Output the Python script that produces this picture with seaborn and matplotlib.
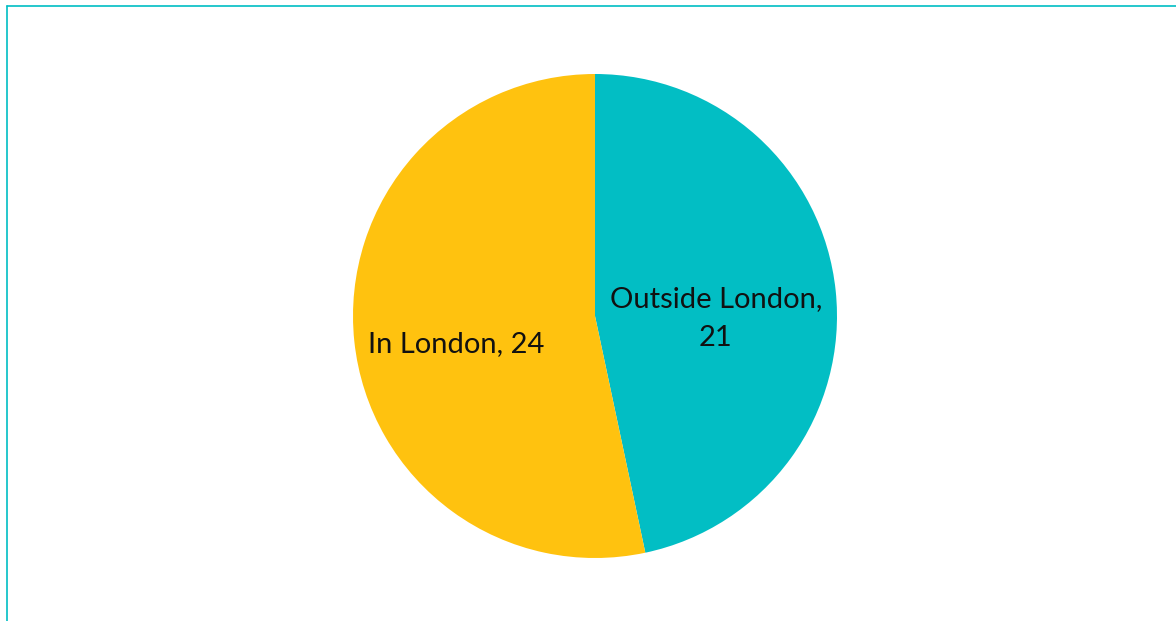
import matplotlib
matplotlib.use("Agg")
import matplotlib.pyplot as plt
import seaborn as sns
from matplotlib.lines import Line2D

categories = ["Outside London", "In London"]
values = [21, 24]
colors = ["#02BEC4", "#FFC20F"]

sns.set_theme(style="white")
plt.rcParams['font.family'] = ['Lato', 'DejaVu Sans']

W, H = 1176, 621
fig = plt.figure(figsize=(W / 100, H / 100), dpi=100)
fig.patch.set_facecolor("white")

cx, cy, r = 595, 305, 242
ax = fig.add_axes([(cx - r) / W, (cy - r) / H, 2 * r / W, 2 * r / H])
wedges, _ = ax.pie(values, colors=colors, startangle=90, counterclock=False,
                   wedgeprops=dict(linewidth=0))
ax.set_xlim(-1, 1)
ax.set_ylim(-1, 1)
ax.set_aspect("equal")
ax.axis("off")

label_pos = [(0.50, -0.01), (-0.574, -0.116)]
label_txt = [f"{categories[0]},\n{values[0]}", f"{categories[1]}, {values[1]}"]
for (x, y), t in zip(label_pos, label_txt):
    ax.text(x, y, t, ha="center", va="center", fontsize=21, color="#111111",
            linespacing=1.6)

# chart border (partially visible frame)
bc = "#00BEC4"
fig.add_artist(Line2D([7 / W, 1.0], [1 - 6 / H, 1 - 6 / H], color=bc, lw=1.2,
                      transform=fig.transFigure))
fig.add_artist(Line2D([7 / W, 7 / W], [0, 1 - 6 / H], color=bc, lw=1.2,
                      transform=fig.transFigure))

fig.savefig("out.png", dpi=100)
